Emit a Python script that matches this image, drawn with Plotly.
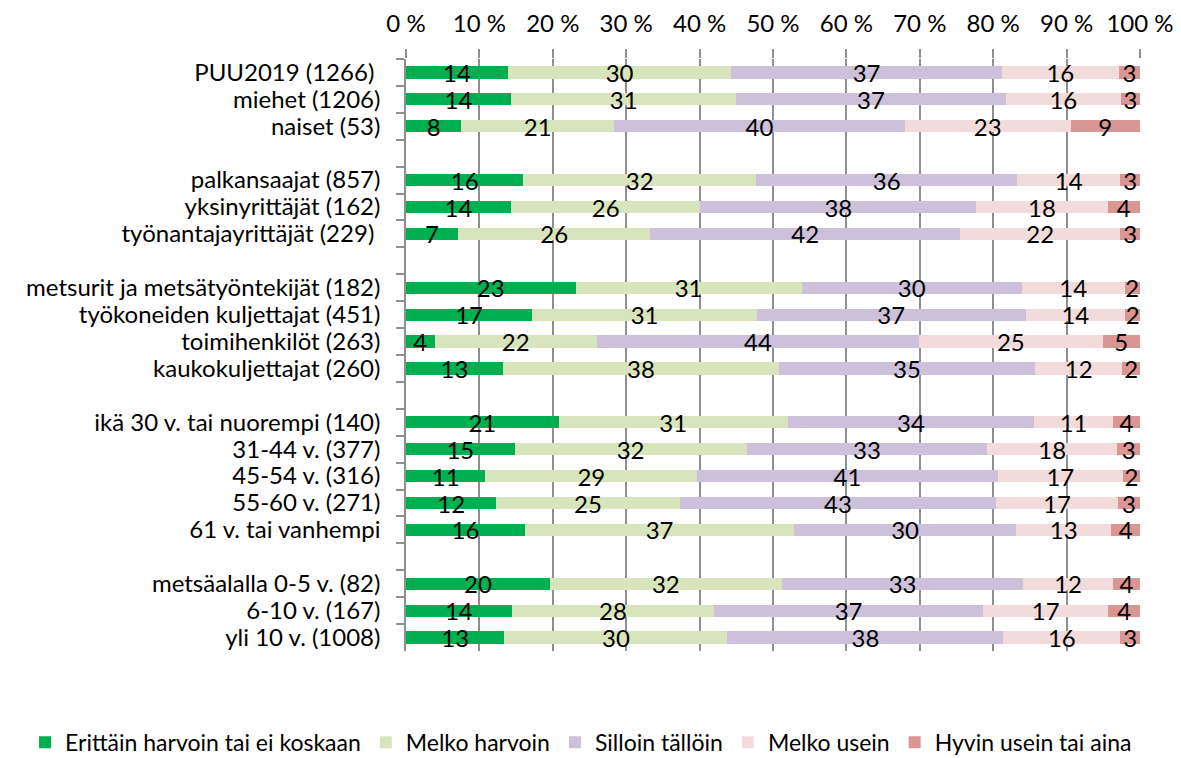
import plotly.graph_objects as go

# Category rows (blank rows separate the groups)
categories = [
    "PUU2019 (1266)\u00a0", "miehet (1206)", "naiset (53)", "\u00a0",
    "palkansaajat (857)", "yksinyrittäjät (162)", "työnantajayrittäjät (229)\u00a0", "\u00a0\u00a0",
    "metsurit ja metsätyöntekijät (182)", "työkoneiden kuljettajat (451)",
    "toimihenkilöt (263)", "kaukokuljettajat (260)", "\u00a0\u00a0\u00a0",
    "ikä 30 v. tai nuorempi (140)", "31-44 v. (377)", "45-54 v. (316)", "55-60 v. (271)",
    "61 v. tai vanhempi", "\u00a0\u00a0\u00a0\u00a0",
    "metsäalalla 0-5 v. (82)", "6-10 v. (167)", "yli 10 v. (1008)",
]

erittain_harvoin = [13.9, 14.3, 7.55, None, 16.0, 14.3, 7.1, None, 23.1, 17.2, 3.9, 13.2, None,
                    20.8, 14.8, 10.8, 12.3, 16.2, None, 19.6, 14.4, 13.4]
melko_harvoin = [30.4, 30.7, 20.8, None, 31.7, 25.8, 26.2, None, 30.8, 30.6, 22.1, 37.6, None,
                 31.2, 31.6, 28.9, 25.0, 36.7, None, 31.6, 27.6, 30.4]
silloin_talloin = [36.9, 36.7, 39.6, None, 35.6, 37.6, 42.2, None, 30.0, 36.6, 43.9, 34.9, None,
                   33.6, 32.8, 40.9, 43.1, 30.2, None, 32.9, 36.6, 37.6]
melko_usein = [15.9, 15.7, 22.6, None, 14.0, 17.9, 21.8, None, 14.0, 13.6, 25.0, 11.9, None,
               10.7, 17.7, 17.1, 16.6, 13.0, None, 12.2, 17.1, 15.9]
hyvin_usein = [2.9, 2.6, 9.45, None, 2.7, 4.4, 2.7, None, 2.1, 2.0, 5.1, 2.4, None,
               3.7, 3.1, 2.3, 3.0, 3.9, None, 3.7, 4.3, 2.7]

series = [
    ("Erittäin harvoin tai ei koskaan", erittain_harvoin, "#00B050"),
    ("Melko harvoin", melko_harvoin, "#D8E4BC"),
    ("Silloin tällöin", silloin_talloin, "#CCC0DA"),
    ("Melko usein", melko_usein, "#F2DCDB"),
    ("Hyvin usein tai aina", hyvin_usein, "#DA9694"),
]

FONT = "Lato"
FS = 24

fig = go.Figure()
for name, vals, color in series:
    fig.add_trace(go.Bar(
        y=categories, x=vals, name=name, orientation="h",
        marker=dict(color=color, line=dict(width=0)),
        texttemplate="%{x:.0f}", textposition="inside", insidetextanchor="middle",
        textangle=0,
        textfont=dict(color="black", size=FS, family=FONT),
    ))

# the figure is a bit taller than the window so the legend box (which plotly
# pads generously) does not squeeze the plot area; the extra strip is blank
fig.update_layout(
    barmode="stack",
    bargap=0.55,
    width=1181, height=780,
    paper_bgcolor="white", plot_bgcolor="white",
    font=dict(family=FONT, size=FS, color="black"),
    margin=dict(l=406, r=41, t=59, b=129),
    uniformtext=dict(minsize=FS, mode="show"),
    legend=dict(orientation="h", traceorder="normal",
                x=-0.519, xanchor="left", y=-0.118, yanchor="top",
                font=dict(size=23), itemwidth=30, tracegroupgap=0,
                borderwidth=0, bgcolor="rgba(0,0,0,0)"),
)
fig.update_xaxes(
    side="top", range=[0, 100], dtick=10, ticksuffix=" %",
    showgrid=True, gridcolor="#8f8f8f", gridwidth=1.5,
    ticks="outside", ticklen=9, tickcolor="#8f8f8f", tickwidth=1.5,
    showline=False, zeroline=False, fixedrange=True,
    automargin=False, ticklabelstandoff=7,
)
fig.update_yaxes(
    categoryorder="array", categoryarray=categories,
    range=[len(categories) - 0.5, -0.5],
    tickmode="linear", tick0=0, dtick=1,
    tickson="boundaries", ticks="outside", ticklen=8, tickcolor="#8f8f8f", tickwidth=1.5,
    showline=True, linecolor="#8f8f8f", linewidth=1.5,
    showgrid=False, ticklabelstandoff=19, automargin=False, fixedrange=True,
)

# drop the default page margin and scrollbars so the figure sits at the window's corner
fig.write_html(
    "out.html",
    config={"displayModeBar": False},
    post_script="document.body.style.margin='0';document.body.style.overflow='hidden';",
)
